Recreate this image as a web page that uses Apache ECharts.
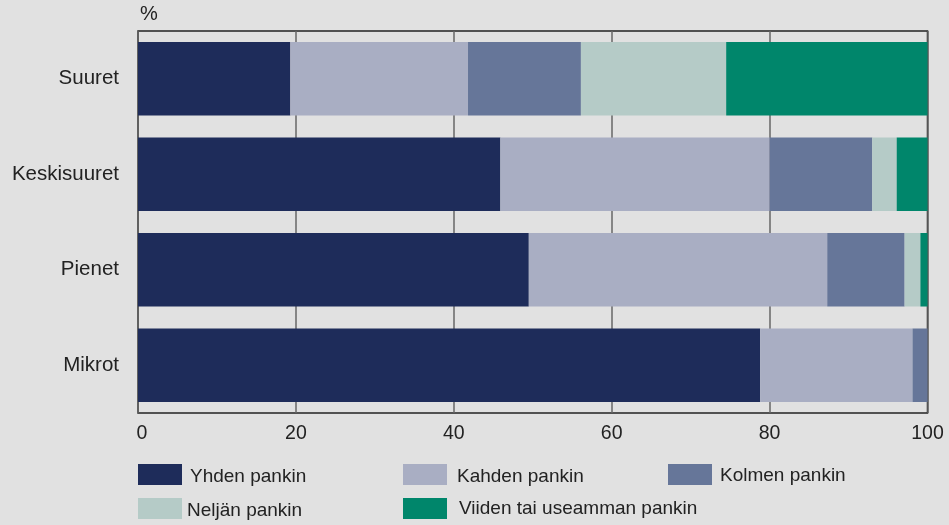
<!DOCTYPE html>
<html><head><meta charset="utf-8">
<script src="https://cdn.jsdelivr.net/npm/echarts@6/dist/echarts.min.js"></script>
<style>html,body{margin:0;padding:0;background:#e1e1e1}#c{width:949px;height:525px}</style>
</head><body><div id="c"></div>
<script>
const categories = ['Suuret', 'Keskisuuret', 'Pienet', 'Mikrot'];
const seriesNames = ['Yhden pankin', 'Kahden pankin', 'Kolmen pankin', 'Neljän pankin', 'Viiden tai useamman pankin'];
const yhden = [19.3, 45.9, 49.5, 78.8];
const kahden = [22.5, 34.1, 37.8, 19.3];
const kolmen = [14.3, 13.0, 9.8, 1.9];
const neljan = [18.4, 3.1, 2.0, 0];
const viiden = [25.5, 3.9, 0.9, 0];
const xTicks = [0, 20, 40, 60, 80, 100];
const colors = ['#1e2c5a', '#a9aec3', '#667699', '#b5cbc7', '#00866b'];
const values = [yhden, kahden, kolmen, neljan, viiden];

const font = 'Liberation Sans, Arial, sans-serif';
const legendPos = [[138, 464], [403, 464], [668, 464], [138, 498], [403, 498]];
const textPad = [[5,0,0,3],[5,0,0,5],[2,0,0,3],[5,0,0,0],[1,0,0,7]];

const chart = echarts.init(document.getElementById('c'));
chart.setOption({
  backgroundColor: '#e1e1e1',
  animation: false,
  grid: { left: 138, right: 21.5, top: 31, bottom: 112, show: true, borderColor: '#222', borderWidth: 1.5, backgroundColor: 'transparent' },
  xAxis: {
    type: 'value', min: xTicks[0], max: xTicks[xTicks.length - 1], interval: 20,
    axisLine: { show: false }, axisTick: { show: false },
    axisLabel: {
      color: '#222', fontSize: 19.5, fontFamily: font, margin: 11,
      formatter: v => v === 0 ? '{z|0}' : '{n|' + v + '}',
      rich: {
        z: { fontSize: 19.5, fontFamily: font, color: '#222', padding: [0, 0, 0, 8] },
        n: { fontSize: 19.5, fontFamily: font, color: '#222' }
      }
    },
    splitLine: { show: true, lineStyle: { color: '#666', width: 1.5 } }
  },
  yAxis: {
    type: 'category', data: categories, inverse: true,
    axisLine: { show: false }, axisTick: { show: false },
    axisLabel: { color: '#222', fontSize: 20.5, fontFamily: font, margin: 19 }
  },
  legend: seriesNames.map((n, i) => ({
    data: [n], left: legendPos[i][0], top: legendPos[i][1], itemWidth: 44, itemHeight: 21,
    itemGap: 0, icon: 'rect', selectedMode: false, padding: 0,
    formatter: '{t|{name}}',
    textStyle: {
      color: '#222', fontSize: 19, fontFamily: font,
      rich: { t: { color: '#222', fontSize: 19, fontFamily: font, padding: textPad[i] } }
    }
  })),
  graphic: [{ type: 'text', left: 140, top: 4, style: { text: '%', fontSize: 20, fontFamily: font, fill: '#222' } }],
  series: seriesNames.map((n, i) => ({
    name: n, type: 'bar', stack: 'total', data: values[i], barWidth: '77%',
    itemStyle: { color: colors[i] }
  }))
});
</script></body></html>
